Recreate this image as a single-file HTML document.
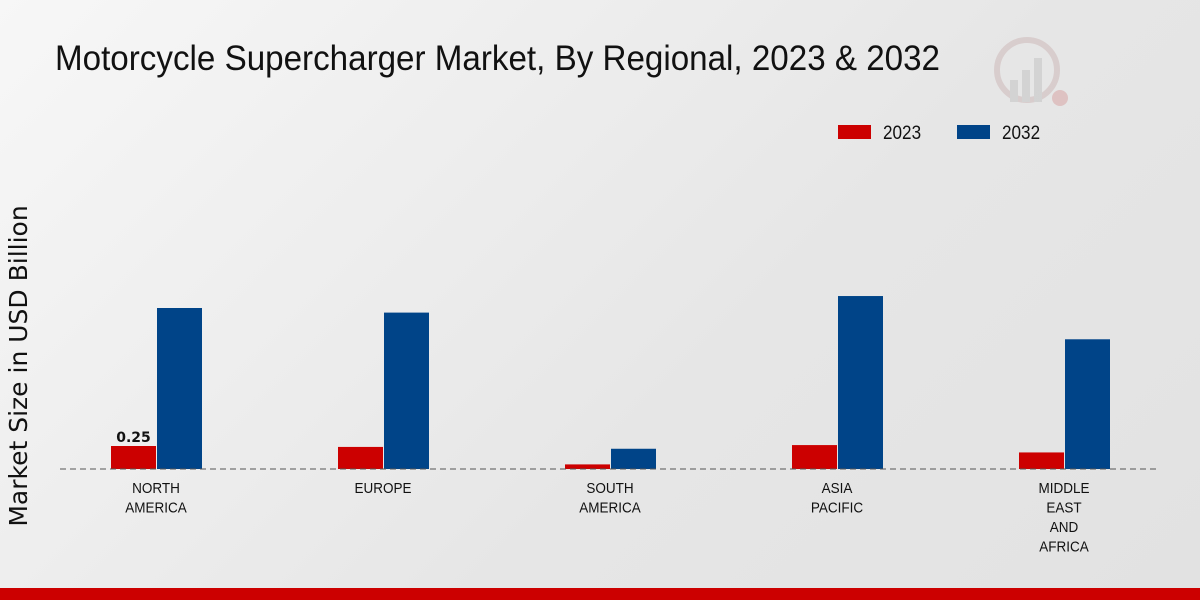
<!DOCTYPE html>
<html><head><meta charset="utf-8">
<style>
html,body{margin:0;padding:0;}
body{width:1200px;height:600px;overflow:hidden;background:linear-gradient(135deg,#f7f7f7 0%,#e6e6e6 60%,#e2e2e2 100%);font-family:"Liberation Sans",sans-serif;position:relative;}
</style></head>
<body>
<svg width="1200" height="600" style="position:absolute;left:0;top:0">
<text x="55" y="70" textLength="885" lengthAdjust="spacingAndGlyphs" font-family="'Liberation Sans',sans-serif" font-size="35" fill="#111">Motorcycle Supercharger Market, By Regional, 2023 &amp; 2032</text>
<g opacity="0.35">
<circle cx="1027" cy="70" r="30" fill="none" stroke="#c0a0a0" stroke-width="6"/>
<rect x="1010" y="80" width="8" height="22" fill="#b0b0b0"/><rect x="1022" y="70" width="8" height="32" fill="#b0b0b0"/><rect x="1034" y="58" width="8" height="44" fill="#b0b0b0"/>
<circle cx="1060" cy="98" r="8" fill="#d08080"/>
</g>
<g>
<rect x="838" y="125" width="33" height="14" fill="#cc0000"/>
<text class="nar" x="883" y="139" font-size="19" fill="#111">2023</text>
<rect x="957" y="125" width="33" height="14" fill="#004488"/>
<text class="nar" x="1002" y="139" font-size="19" fill="#111">2032</text>
</g>
<text transform="translate(27,366) rotate(-90)" text-anchor="middle" font-family="'DejaVu Sans',sans-serif" font-size="25" fill="#111">Market Size in USD Billion</text>
<g id="plot"></g>
<line x1="60" y1="469" x2="1160" y2="469" stroke="#555" stroke-dasharray="6,4"/>
<rect x="0" y="588" width="1200" height="12" fill="#cc0000"/>
</svg>
<script>
const categories=[["NORTH","AMERICA"],["EUROPE"],["SOUTH","AMERICA"],["ASIA","PACIFIC"],["MIDDLE","EAST","AND","AFRICA"]];
const values2023=[0.25,0.24,0.05,0.26,0.18];
const values2032=[1.75,1.70,0.22,1.88,1.41];
const shownLabels=["0.25",null,null,null,null];
const ns="http://www.w3.org/2000/svg";
const g=document.getElementById('plot');
const baseY=469, pxPerUnit=92, x0=156, step=227, bw=45;
function xc(i){return x0+i*step;}
function yv(v){return baseY-v*pxPerUnit;}
function mk(t,a){const e=document.createElementNS(ns,t);for(const k in a)e.setAttribute(k,a[k]);g.appendChild(e);return e;}
categories.forEach((c,i)=>{
  const r1=mk('rect',{x:xc(i)-bw,y:yv(values2023[i]),width:bw,height:baseY-yv(values2023[i]),fill:'#cc0000'});
  
  
  const r2=mk('rect',{x:xc(i)+1,y:yv(values2032[i]),width:bw,height:baseY-yv(values2032[i]),fill:'#004488'});
  
  
  if(shownLabels[i]){
    const t=mk('text',{x:xc(i)-bw/2,y:yv(values2023[i])-4,'text-anchor':'middle','font-size':'14','font-weight':'bold',fill:'#111','font-family':"'DejaVu Sans',sans-serif"});
    t.textContent=shownLabels[i];
    
    
  }
  c.forEach((line,j)=>{
    const t=mk('text',{class:'nar',x:xc(i),y:493+j*19.5,'text-anchor':'middle','font-size':'15',fill:'#111'});
    t.textContent=line;
    
    
  });
});
document.querySelectorAll('text.nar').forEach(t=>{
  const w=t.getComputedTextLength();
  t.setAttribute('textLength',(w*0.9).toFixed(1));
  t.setAttribute('lengthAdjust','spacingAndGlyphs');
});
</script>
</body></html>
